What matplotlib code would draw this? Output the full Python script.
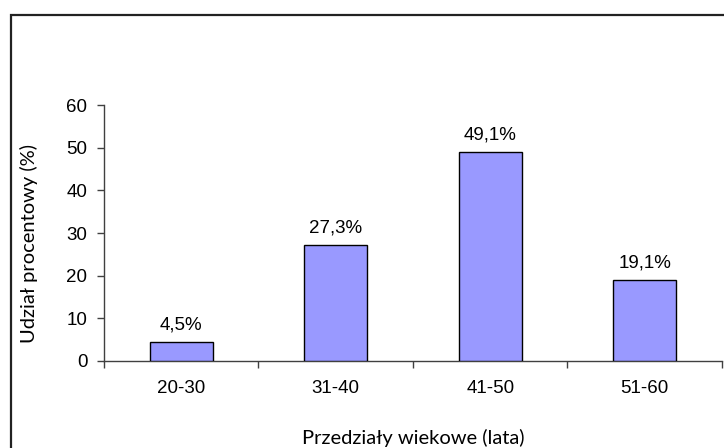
import matplotlib
matplotlib.use('Agg')
import matplotlib.pyplot as plt
from matplotlib.patches import Rectangle

# Data
age_groups = ['20-30', '31-40', '41-50', '51-60']
shares = [4.5, 27.3, 49.1, 19.1]
bar_labels = ['4,5%', '27,3%', '49,1%', '19,1%']
y_ticks = [0, 10, 20, 30, 40, 50, 60]

BAR_COLOR = '#9999FF'
AXIS_COLOR = '#404040'


def plot_age_shares() -> None:
    """Draws the age-group bar chart in an Excel-like style."""
    fig = plt.figure(figsize=(7.24, 4.48), dpi=100)
    ax = fig.add_axes([0.1436, 0.1942, 0.8536, 0.5714])

    x = range(len(age_groups))
    ax.bar(x, shares, width=0.41, color=BAR_COLOR, edgecolor='black', linewidth=1.0, zorder=3)

    for xi, val, lab in zip(x, shares, bar_labels):
        ax.annotate(lab, (xi, val), xytext=(0, 6), textcoords='offset points',
                    ha='center', va='bottom', fontsize=13.5, family='Liberation Sans')

    ax.set_xlim(-0.5, len(age_groups) - 0.5)
    ax.set_ylim(0, 60)
    ax.set_yticks(y_ticks)
    ax.set_yticklabels([str(t) for t in y_ticks], family='Liberation Sans', fontsize=13.5)

    # category labels in the middle, tick marks on the boundaries
    ax.set_xticks([i - 0.5 for i in range(len(age_groups) + 1)])
    ax.set_xticklabels([''] * (len(age_groups) + 1))
    ax.set_xticks(list(x), minor=True)
    ax.set_xticklabels(age_groups, minor=True, family='Liberation Sans', fontsize=13.5)
    ax.tick_params(axis='x', which='minor', length=0, pad=14)
    ax.tick_params(axis='x', which='major', length=5, width=1.0, color=AXIS_COLOR, direction='out')
    ax.tick_params(axis='y', length=5, width=1.0, color=AXIS_COLOR, direction='out', pad=7)

    for side in ['top', 'right']:
        ax.spines[side].set_visible(False)
    for side in ['left', 'bottom']:
        ax.spines[side].set_color(AXIS_COLOR)
        ax.spines[side].set_linewidth(1.0)

    ax.set_ylabel('Udział procentowy (%)', family='Lato', fontsize=14.5)
    ax.yaxis.set_label_coords(-0.106, 0.46)
    fig.text(0.5705, 0.0223, 'Przedziały wiekowe (lata)', ha='center', va='center',
             family='Lato', fontsize=14.5)

    # outer chart frame (runs off the right and bottom of the image)
    frame = Rectangle((0.0152, -0.2), 1.2, 1.1665, transform=fig.transFigure,
                      fill=False, edgecolor='#222222', linewidth=1.6, clip_on=False)
    fig.patches.append(frame)

    fig.savefig('out.png', dpi=100)


if __name__ == '__main__':
    plot_age_shares()
